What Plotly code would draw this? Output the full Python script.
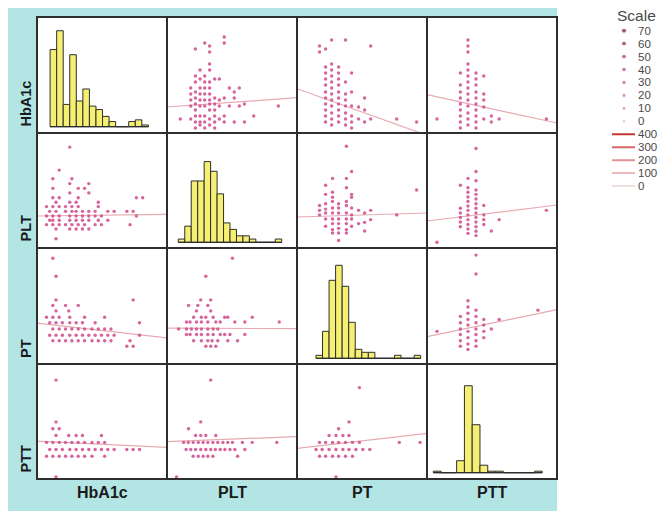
import plotly.graph_objects as go

# ======================= DATA =======================
VARS = ["HbA1c", "PLT", "PT", "PTT"]

# --- pair HbA1c (row var) vs PLT (col var)
plt_A = [258,
         170, 258,
         192,
         128,
         192,
         192,
         149, 192,
         128, 170,
         149, 215, 236,
         128, 170, 192,
         107, 149, 170, 192, 281, 326,
         128, 303,
         107, 149, 170, 192,
         128, 215, 258, 303,
         107, 149, 170, 192, 236,
         128, 192, 215, 349,
         107, 149, 170, 236, 281, 326, 502,
         128, 192, 215,
         128, 149, 170, 215, 258, 391,
         60, 107, 192, 236,
         128, 149, 170, 215, 258, 303, 349,
         149, 192,
         128, 170, 215]
hba1c_A = [13.6,
           13.0, 13.0,
           12.7,
           12.4,
           12.1,
           10.9,
           10.3, 10.3,
           9.7, 9.7,
           9.4, 9.4, 9.4,
           9.1, 9.1, 9.1,
           8.5, 8.5, 8.5, 8.5, 8.5, 8.5,
           8.1, 8.1,
           7.9, 7.9, 7.9, 7.9,
           7.5, 7.5, 7.5, 7.5,
           7.3, 7.3, 7.3, 7.3, 7.3,
           6.9, 6.9, 6.9, 6.9,
           6.7, 6.7, 6.7, 6.7, 6.7, 6.7, 6.7,
           6.3, 6.3, 6.3,
           5.7, 5.7, 5.7, 5.7, 5.7, 5.7,
           5.4, 5.4, 5.4, 5.4,
           5.1, 5.1, 5.1, 5.1, 5.1, 5.1, 5.1,
           4.8, 4.8,
           4.5, 4.5, 4.5]

# --- pair HbA1c vs PT
pt_B = [10.6, 10.6,
        11.3, 11.3, 11.3, 11.3, 11.3, 11.3, 11.3, 11.3, 11.3, 11.3, 11.3,
        12.0, 12.0, 12.0, 12.0, 12.0, 12.0, 12.0, 12.0, 12.0, 12.0, 12.0, 12.0,
        12.8, 12.8, 12.8, 12.8, 12.8, 12.8, 12.8, 12.8, 12.8, 12.8,
        13.6, 13.6, 13.6, 13.6, 13.6, 13.6, 13.6, 13.6,
        14.3, 14.3, 14.3, 14.3, 14.3, 14.3,
        15.1, 15.1,
        15.8, 15.8, 15.8,
        16.5, 16.5,
        19.5,
        21.8]
hba1c_B = [12.7, 12.1,
           12.4, 10.6, 10.0, 9.4, 8.8, 8.1, 7.5, 6.9, 6.3, 5.7, 5.1,
           13.3, 10.9, 10.3, 9.7, 9.1, 8.5, 7.9, 7.3, 6.7, 6.0, 5.4, 4.8,
           10.6, 10.0, 9.4, 8.8, 8.1, 7.5, 6.9, 6.3, 5.7, 5.1,
           13.3, 9.1, 7.9, 7.3, 6.7, 6.0, 5.4, 4.8,
           10.0, 8.1, 6.7, 5.7, 5.1, 4.5,
           6.6, 5.4,
           7.5, 6.3, 5.1,
           12.7, 5.4,
           5.4,
           5.1]

# --- pair HbA1c vs PTT
ptt_C = [24.6,
         35.4, 35.4, 35.4, 35.4, 35.4, 35.4, 35.4, 35.4, 35.4,
         38.9, 38.9, 38.9, 38.9, 38.9, 38.9, 38.9, 38.9, 38.9, 38.9, 38.9, 38.9, 38.9, 38.9,
         42.6, 42.6, 42.6, 42.6, 42.6, 42.6, 42.6, 42.6, 42.6, 42.6,
         46.2, 46.2, 46.2, 46.2, 46.2,
         49.7, 49.7,
         53.3,
         75.1]
hba1c_C = [5.4,
           10.0, 8.8, 8.1, 7.5, 6.9, 6.3, 5.7, 5.1, 4.5,
           13.3, 12.7, 12.1, 10.9, 10.3, 9.7, 9.1, 8.5, 7.9, 7.3, 6.7, 6.0, 5.4, 4.8,
           10.0, 9.4, 8.8, 8.1, 7.5, 6.9, 6.3, 5.7, 5.1, 4.5,
           9.7, 7.9, 7.3, 6.6, 5.4,
           5.7, 5.1,
           5.4,
           5.4]

# --- pair PLT vs PT
pt_D = [10.6, 10.6, 10.6,
        11.3, 11.3, 11.3, 11.3, 11.3, 11.3, 11.3,
        12.1, 12.1, 12.1, 12.1, 12.1, 12.1, 12.1, 12.1, 12.1, 12.1,
        12.8, 12.8, 12.8, 12.8, 12.8, 12.8, 12.8, 12.8,
        13.7, 13.7, 13.7, 13.7, 13.7, 13.7, 13.7, 13.7, 13.7, 13.7,
        14.3, 14.3, 14.3, 14.3, 14.3, 14.3, 14.3,
        15.1, 15.1,
        15.8, 15.8, 15.8,
        16.5, 16.5,
        19.5,
        21.8]
plt_D = [220, 197, 175,
         318, 274, 229, 203, 184, 155, 120,
         351, 284, 260, 240, 208, 184, 155, 133, 104, 88,
         229, 208, 184, 155, 133, 110, 88, 52,
         506, 351, 306, 240, 220, 184, 155, 133, 104, 88,
         384, 274, 260, 208, 175, 155, 120,
         197, 133,
         184, 139, 97,
         197, 152,
         175,
         295]

# --- pair PLT vs PTT
ptt_E = [24.6,
         35.4, 35.4, 35.4, 35.4, 35.4, 35.4,
         38.9, 38.9, 38.9, 38.9, 38.9, 38.9, 38.9, 38.9, 38.9, 38.9, 38.9, 38.9,
         42.6, 42.6, 42.6, 42.6, 42.6, 42.6, 42.6, 42.6, 42.6, 42.6, 42.6, 42.6, 42.6, 42.6,
         46.2, 46.2, 46.2, 46.2,
         49.7,
         53.3,
         75.1]
plt_E = [43,
         318, 207, 184, 163, 141, 118,
         351, 306, 284, 261, 240, 218, 197, 175, 152, 129, 107, 86,
         495, 384, 340, 295, 274, 252, 229, 207, 184, 163, 141, 118, 96, 75,
         220, 175, 152, 129,
         97,
         152,
         197]

# --- pair PT vs PTT
ptt_F = [24.6,
         35.4, 35.4, 35.4, 35.4, 35.4, 35.4,
         38.9, 38.9, 38.9, 38.9, 38.9, 38.9, 38.9, 38.9, 38.9,
         42.6, 42.6, 42.6, 42.6, 42.6, 42.6, 42.6, 42.6, 42.6,
         46.2, 46.2, 46.2, 46.2,
         49.7,
         53.3,
         71.2]
pt_F = [12.5,
        14.4, 13.6, 12.8, 12.1, 11.3, 10.6,
        16.4, 15.6, 14.8, 14.0, 13.3, 12.5, 11.7, 10.9, 10.2,
        22.2, 19.8, 15.2, 14.4, 13.6, 12.8, 12.1, 11.3, 10.6,
        14.0, 13.3, 12.5, 11.7,
        12.8,
        14.0,
        15.2]

# --- histograms (diagonal): bin left edges and counts
hba1c_bins = [5.0, 5.5, 6.0, 6.5, 7.0, 7.5, 8.0, 8.5, 9.0, 9.5, 10.0, 10.5, 11.0, 11.5, 12.0]
hba1c_counts = [45, 56, 13, 42, 15, 22, 12, 10, 6, 3, 0, 0, 3, 4, 1]
plt_bins = [60, 90, 120, 150, 180, 210, 240, 270, 300, 330, 360, 390, 420, 450, 480, 510]
plt_counts = [1, 5, 19, 19, 25, 22, 15, 6, 4, 2, 2, 1, 0, 0, 0, 1]
pt_bins = [10.0, 10.8, 11.6, 12.4, 13.2, 14.0, 14.8, 15.6, 16.4, 17.2, 18.0, 18.8, 19.6, 20.4, 21.2, 22.0]
pt_counts = [1, 9, 26, 31, 24, 12, 3, 2, 2, 0, 0, 0, 1, 0, 0, 1]
ptt_bins = [24, 28, 32, 36, 40, 44, 48, 52, 56, 60, 64, 68, 72, 76]
ptt_counts = [1, 0, 0, 8, 58, 32, 5, 1, 1, 0, 0, 0, 0, 1]
bin_widths = [0.5, 30, 0.8, 4]

# --- fitted lines: row-variable value at the left / right end of the x range
fit_row = [0, 0, 0, 1, 1, 1, 2, 2, 2, 3, 3, 3]
fit_col = [1, 2, 3, 0, 2, 3, 0, 1, 3, 0, 1, 2]
fit_at_xmin = [6.6, 8.43, 7.83, 169.6, 164.8, 145.5, 13.56, 12.9, 11.82, 43.3, 43.0, 39.5]
fit_at_xmax = [7.53, 3.77, 5.0, 177.8, 184.1, 222.7, 11.66, 12.85, 15.26, 40.0, 45.6, 47.3]

# --- "Scale" legend
scale_dot_labels = ["70", "60", "50", "40", "30", "20", "10", "0"]
scale_line_labels = ["400", "300", "200", "100", "0"]

# ======================= STYLE / GEOMETRY =======================
PAGE_OFF = 8            # the page body margin that shifts the figure
W, H = 667 - PAGE_OFF, 513 - PAGE_OFF
FONT = "Liberation Sans, Arial, sans-serif"
TEAL = "#b3e5e4"
YELLOW = "#f6f072"
DOT = "rgba(208,78,142,0.88)"
FITC = "#e7aab0"
BORDER = "#2e2e2e"

COL_EDGES = [37, 167, 297, 427, 557]
ROW_EDGES = [17, 133, 248, 364, 479]

x_ranges = {"HbA1c": [3.6, 15.9], "PLT": [0, 586], "PT": [8, 23], "PTT": [20, 80]}
y_ranges = {"HbA1c": [4, 15.6], "PLT": [15.3, 570], "PT": [8.35, 23.1], "PTT": [23.5, 83.5]}
hist_xr = [[4.0, 13.92], [7.5, 611], [7.68, 23.57], [20.76, 87.6]]
hist_yr = [[-3.68, 64.0], [-1.77, 33.86], [-1.9, 36.77], [-4.2, 72.5]]

dot_colors = ["#7a1444", "#8c2052", "#9f2e62", "#b03d71", "#c05082", "#ce6794", "#da82a8", "#e6a7c3"]
dot_sizes = [5, 4.8, 4.6, 4.4, 4.2, 4.0, 3.8, 3.5]
line_colors = ["#c43536", "#d46868", "#e09393", "#ebbaba", "#f3dcdc"]

LEG_DOT_X, LEG_LINE_X0, LEG_LINE_X1, LEG_LABEL_X, LEG_TITLE_X = 624, 612, 635, 637, 636


def px_x(p):
    return (p - PAGE_OFF) / W


def px_y(p):
    return 1 - (p - PAGE_OFF) / H


def ax(k):
    return ("x" if k == 1 else f"x{k}"), ("y" if k == 1 else f"y{k}")


pairs = {
    (0, 1): (plt_A, hba1c_A),
    (0, 2): (pt_B, hba1c_B),
    (0, 3): (ptt_C, hba1c_C),
    (1, 2): (pt_D, plt_D),
    (1, 3): (ptt_E, plt_E),
    (2, 3): (ptt_F, pt_F),
}
hists = [(hba1c_bins, hba1c_counts), (plt_bins, plt_counts),
         (pt_bins, pt_counts), (ptt_bins, ptt_counts)]

fig = go.Figure()
layout = dict(width=W, height=H, margin=dict(l=0, r=0, t=0, b=0),
              paper_bgcolor="white", plot_bgcolor="rgba(0,0,0,0)",
              showlegend=False, font=dict(family=FONT))

for i in range(4):
    for j in range(4):
        k = i * 4 + j + 1
        xa, ya = ax(k)
        if i == j:
            xr, yr = hist_xr[i], hist_yr[i]
        else:
            xr, yr = x_ranges[VARS[j]], y_ranges[VARS[i]]
        layout["xaxis" if k == 1 else f"xaxis{k}"] = dict(
            domain=[px_x(COL_EDGES[j]), px_x(COL_EDGES[j + 1])], range=xr,
            anchor=ya, visible=False, fixedrange=True)
        layout["yaxis" if k == 1 else f"yaxis{k}"] = dict(
            domain=[px_y(ROW_EDGES[i + 1]), px_y(ROW_EDGES[i])], range=yr,
            anchor=xa, visible=False, fixedrange=True)

        if i == j:
            edges, counts = hists[i]
            w = bin_widths[i]
            fig.add_trace(go.Scatter(x=[edges[0], edges[-1] + w], y=[0, 0], mode="lines",
                                     line=dict(color=BORDER, width=1.2),
                                     xaxis=xa, yaxis=ya, hoverinfo="skip"))
            fig.add_trace(go.Bar(x=[e + w / 2 for e in edges], y=counts, width=w,
                                 marker=dict(color=YELLOW, line=dict(color=BORDER, width=1)),
                                 xaxis=xa, yaxis=ya))
        else:
            if i < j:
                xs, ys = pairs[(i, j)]
            else:
                ys, xs = pairs[(j, i)]
            for r, c, y0, y1 in zip(fit_row, fit_col, fit_at_xmin, fit_at_xmax):
                if r == i and c == j:
                    fig.add_trace(go.Scatter(x=x_ranges[VARS[j]], y=[y0, y1], mode="lines",
                                             line=dict(color=FITC, width=1.2),
                                             xaxis=xa, yaxis=ya, hoverinfo="skip"))
            fig.add_trace(go.Scatter(x=xs, y=ys, mode="markers",
                                     marker=dict(color=DOT, size=3.4, line=dict(width=0)),
                                     xaxis=xa, yaxis=ya))

# ---- legend axis ("Scale")
layout["xaxis17"] = dict(domain=[px_x(600), px_x(659)], range=[600, 659], anchor="y17",
                         visible=False, fixedrange=True)
layout["yaxis17"] = dict(domain=[px_y(192.5), px_y(24.2)], range=[12.5, -0.5],
                         anchor="x17", visible=False, fixedrange=True)
n_dots = len(scale_dot_labels)
fig.add_trace(go.Scatter(x=[LEG_DOT_X] * n_dots, y=list(range(n_dots)), mode="markers",
                         marker=dict(color=dot_colors, size=dot_sizes),
                         xaxis="x17", yaxis="y17", cliponaxis=False))
for n, col in enumerate(line_colors):
    fig.add_trace(go.Scatter(x=[LEG_LINE_X0, LEG_LINE_X1], y=[n_dots + n, n_dots + n], mode="lines",
                             line=dict(color=col, width=2),
                             xaxis="x17", yaxis="y17"))

annotations = []
for n, lab in enumerate(scale_dot_labels + scale_line_labels):
    annotations.append(dict(x=LEG_LABEL_X, y=n, xref="x17", yref="y17", text=lab, showarrow=False,
                            xanchor="left", yanchor="middle", borderpad=0,
                            font=dict(size=11.5, color="#4a4a4a", family=FONT)))
annotations.append(dict(x=px_x(LEG_TITLE_X), y=px_y(15), xref="paper", yref="paper", text="Scale",
                        showarrow=False, xanchor="center", yanchor="middle",
                        font=dict(size=15.5, color="#4a4a4a", family=FONT)))

for n, v in enumerate(VARS):
    annotations.append(dict(x=px_x((COL_EDGES[n] + COL_EDGES[n + 1]) / 2), y=px_y(492.5),
                            xref="paper", yref="paper", text=f"<b>{v}</b>", showarrow=False,
                            xanchor="center", yanchor="middle",
                            font=dict(size=16, color="#1a1a1a", family=FONT)))
    annotations.append(dict(x=px_x(25.5), y=px_y(ROW_EDGES[n + 1] - 4), xref="paper", yref="paper",
                            text=f"<b>{v}</b>", showarrow=False, textangle=-90,
                            xanchor="center", yanchor="bottom",
                            font=dict(size=14.5, color="#1a1a1a", family=FONT)))
layout["annotations"] = annotations

shapes = [
    dict(type="rect", xref="paper", yref="paper", layer="below",
         x0=px_x(8), x1=px_x(557), y0=px_y(511), y1=px_y(8),
         fillcolor=TEAL, line=dict(width=0)),
    dict(type="rect", xref="paper", yref="paper", layer="below",
         x0=px_x(COL_EDGES[0]), x1=px_x(COL_EDGES[-1]), y0=px_y(ROW_EDGES[-1]), y1=px_y(ROW_EDGES[0]),
         fillcolor="white", line=dict(width=0)),
]
for cx in COL_EDGES:
    shapes.append(dict(type="line", xref="paper", yref="paper", layer="above",
                       x0=px_x(cx), x1=px_x(cx), y0=px_y(ROW_EDGES[-1] + 1), y1=px_y(ROW_EDGES[0] - 1),
                       line=dict(color=BORDER, width=2)))
for ry in ROW_EDGES:
    shapes.append(dict(type="line", xref="paper", yref="paper", layer="above",
                       x0=px_x(COL_EDGES[0] - 1), x1=px_x(COL_EDGES[-1] + 1), y0=px_y(ry), y1=px_y(ry),
                       line=dict(color=BORDER, width=2)))
layout["shapes"] = shapes

fig.update_layout(**layout)
fig.write_html("out.html")
